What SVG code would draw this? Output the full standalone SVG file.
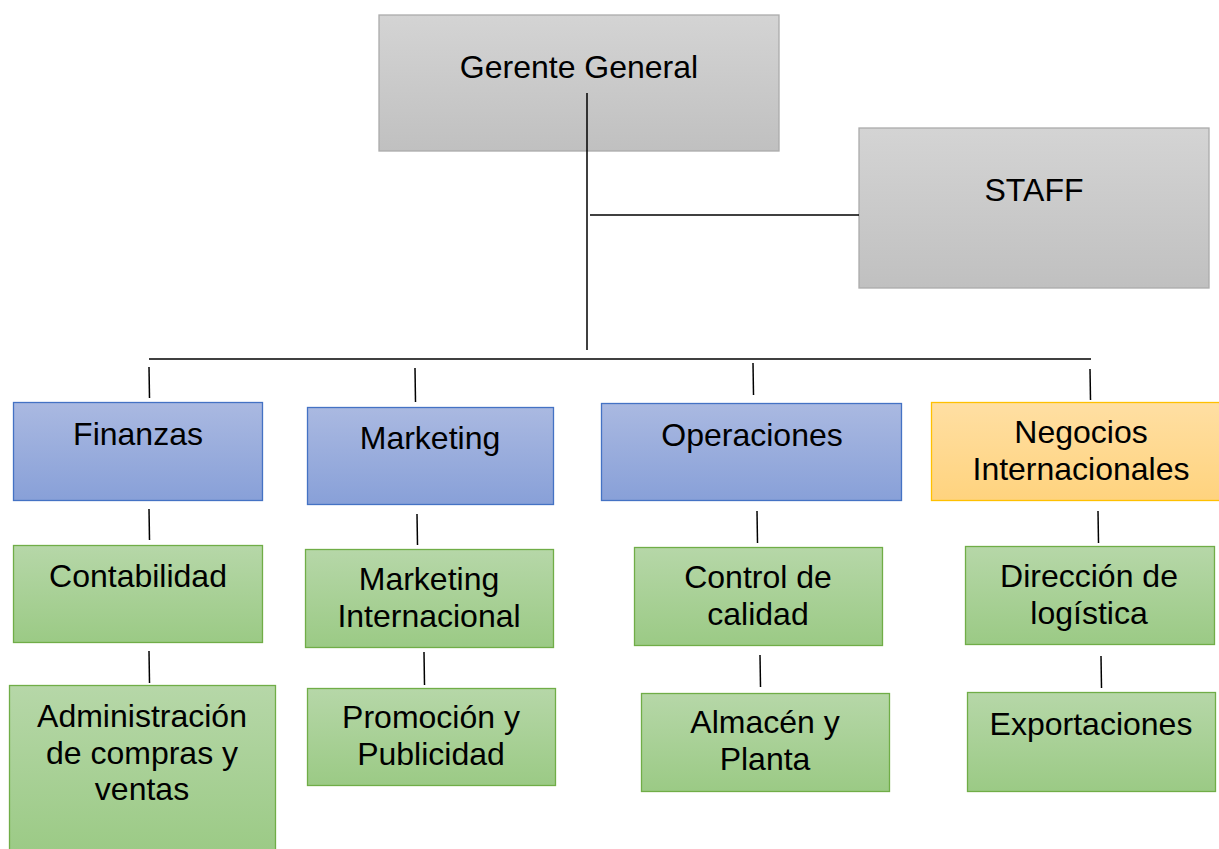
<svg xmlns="http://www.w3.org/2000/svg" width="1219" height="849" viewBox="0 0 1219 849">
<defs>
<linearGradient id="gGray" x1="0" y1="0" x2="0" y2="1"><stop offset="0" stop-color="#d4d4d4"/><stop offset="1" stop-color="#c0c0c0"/></linearGradient>
<linearGradient id="gBlue" x1="0" y1="0" x2="0" y2="1"><stop offset="0" stop-color="#aab9e1"/><stop offset="1" stop-color="#88a0d8"/></linearGradient>
<linearGradient id="gOrange" x1="0" y1="0" x2="0" y2="1"><stop offset="0" stop-color="#ffdfa3"/><stop offset="1" stop-color="#ffd37e"/></linearGradient>
<linearGradient id="gGreen" x1="0" y1="0" x2="0" y2="1"><stop offset="0" stop-color="#b6d7a8"/><stop offset="1" stop-color="#9bca85"/></linearGradient>
</defs>
<style>
text{font-family:"Liberation Sans",Arial,sans-serif;font-size:32px;fill:#000;text-anchor:middle}
.gray{fill:url(#gGray);stroke:#ababab;stroke-width:1.3}
.blue{fill:url(#gBlue);stroke:#4472c4;stroke-width:1.3}
.orange{fill:url(#gOrange);stroke:#ffc000;stroke-width:1.3}
.green{fill:url(#gGreen);stroke:#70ad47;stroke-width:1.3}
.con line{stroke:#000;stroke-width:1.5}
</style>
<rect width="1219" height="849" fill="#fff"/>
<g id="n-gerente"><rect class="gray" x="379" y="15" width="400" height="136"/><text x="579" y="78">Gerente General</text></g>
<g id="n-staff"><rect class="gray" x="859" y="128" width="350" height="160"/><text x="1034" y="201">STAFF</text></g>
<g id="n-finanzas"><rect class="blue" x="13.5" y="402.5" width="249" height="98"/><text x="138" y="445">Finanzas</text></g>
<g id="n-marketing"><rect class="blue" x="307.5" y="407.5" width="246" height="97"/><text x="430" y="449">Marketing</text></g>
<g id="n-operaciones"><rect class="blue" x="601.5" y="403.5" width="300" height="97"/><text x="752" y="446">Operaciones</text></g>
<g id="n-negocios"><rect class="orange" x="931.5" y="402.5" width="290" height="98"/><text x="1081" y="443">Negocios</text><text x="1081" y="480">Internacionales</text></g>
<g id="n-contabilidad"><rect class="green" x="13.5" y="545.5" width="249" height="97"/><text x="138" y="587">Contabilidad</text></g>
<g id="n-mkt-int"><rect class="green" x="305.5" y="549.5" width="248" height="98"/><text x="429" y="590">Marketing</text><text x="429" y="627">Internacional</text></g>
<g id="n-control"><rect class="green" x="634.5" y="547.5" width="248" height="98"/><text x="758" y="588">Control de</text><text x="758" y="625">calidad</text></g>
<g id="n-direccion"><rect class="green" x="965.5" y="546.5" width="249" height="98"/><text x="1089" y="587">Dirección de</text><text x="1089" y="624">logística</text></g>
<g id="n-admin"><rect class="green" x="9.5" y="685.5" width="266" height="170"/><text x="142" y="727">Administración</text><text x="142" y="764">de compras y</text><text x="142" y="800">ventas</text></g>
<g id="n-promocion"><rect class="green" x="307.5" y="688.5" width="248" height="97"/><text x="431" y="728">Promoción y</text><text x="431" y="765">Publicidad</text></g>
<g id="n-almacen"><rect class="green" x="641.5" y="693.5" width="248" height="98"/><text x="765" y="733">Almacén y</text><text x="765" y="770">Planta</text></g>
<g id="n-export"><rect class="green" x="967.5" y="692.5" width="248" height="99"/><text x="1091" y="735">Exportaciones</text></g>
<g id="connectors" class="con">
<line x1="587" y1="93" x2="587" y2="350"/>
<line x1="590" y1="215" x2="859" y2="215"/>
<line x1="149" y1="359" x2="1091" y2="359"/>
<line x1="149" y1="367" x2="149.5" y2="398"/>
<line x1="415" y1="368" x2="415.5" y2="402"/>
<line x1="753" y1="363" x2="753.5" y2="395"/>
<line x1="1090" y1="369" x2="1090.5" y2="400"/>
<line x1="149" y1="509" x2="149.5" y2="540"/>
<line x1="417" y1="514" x2="417.5" y2="545"/>
<line x1="757" y1="511" x2="757.5" y2="543"/>
<line x1="1098" y1="511" x2="1098.5" y2="543"/>
<line x1="149" y1="651" x2="149.5" y2="683"/>
<line x1="424" y1="652" x2="424.5" y2="685"/>
<line x1="760" y1="655" x2="760.5" y2="687"/>
<line x1="1101" y1="656" x2="1101.5" y2="688"/>
</g>
</svg>
